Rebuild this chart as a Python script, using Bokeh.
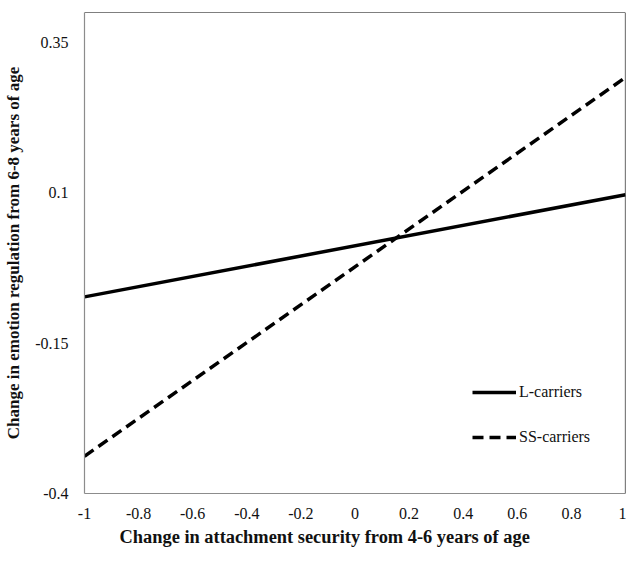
from bokeh.plotting import figure
from bokeh.models import Range1d, FixedTicker, Span, Legend, LegendItem, Title
from bokeh.embed import file_html
from bokeh.resources import INLINE

# Data
x_vals = [-1, 1]
l_carriers = [-0.073, 0.097]
ss_carriers = [-0.338, 0.292]
x_ticks = [-1, -0.8, -0.6, -0.4, -0.2, 0, 0.2, 0.4, 0.6, 0.8, 1]
y_ticks = [-0.4, -0.15, 0.1, 0.35]
x_title = "Change in attachment security from 4-6 years of age"
y_title = "Change in emotion regulation from 6-8 years of age"
labels = ["L-carriers", "SS-carriers"]

FONT = "Liberation Serif"

p = figure(width=626, height=549, output_backend="svg", toolbar_location=None,
           x_range=Range1d(-1, 1), y_range=Range1d(-0.4, 0.4),
           min_border_left=84, min_border_right=1, min_border_top=12, min_border_bottom=55)
p.outline_line_color = None
p.xgrid.grid_line_color = None
p.ygrid.grid_line_color = None
p.background_fill_color = "white"
p.border_fill_color = "white"

for ax in (p.xaxis[0], p.yaxis[0]):
    ax.axis_line_color = "#8c8c8c"
    ax.axis_line_width = 1.2
    ax.major_tick_line_color = None
    ax.minor_tick_line_color = None
    ax.major_label_text_font = FONT
    ax.major_label_text_font_size = "16px"
    ax.major_label_text_color = "#111111"

p.xaxis.ticker = FixedTicker(ticks=x_ticks)
p.yaxis.ticker = FixedTicker(ticks=y_ticks)
p.xaxis.major_label_overrides = {v: f"{v:g}" for v in x_ticks}
p.yaxis.major_label_overrides = {v: f"{v:g}" for v in y_ticks}
p.xaxis.major_label_standoff = 8
p.yaxis.major_label_standoff = 10

p.yaxis.axis_label = y_title
p.yaxis.axis_label_text_font = FONT
p.yaxis.axis_label_text_font_style = "bold"
p.yaxis.axis_label_text_font_size = "17px"
p.yaxis.axis_label_standoff = 9
p.yaxis.axis_label_text_color = "#111111"

# top and right borders
p.add_layout(Span(location=0.4, dimension="width", line_color="black", line_width=1.2))
p.add_layout(Span(location=1, dimension="height", line_color="black", line_width=1.2))

r1 = p.line(x_vals, l_carriers, line_color="black", line_width=3.5)
r2 = p.line(x_vals, ss_carriers, line_color="black", line_width=3.5, line_dash="11 6")

legend = Legend(items=[LegendItem(label=labels[0], renderers=[r1]),
                       LegendItem(label=labels[1], renderers=[r2])],
                location=(388, 46), orientation="vertical",
                background_fill_alpha=0, border_line_color=None,
                glyph_width=44, glyph_height=20, label_height=20,
                spacing=25, padding=0, margin=0, label_standoff=3,
                label_text_font=FONT, label_text_font_size="16px",
                label_text_color="#111111")
p.add_layout(legend, "center")

t = Title(text=x_title, align="left", offset=35, text_font=FONT,
          text_font_style="bold", text_font_size="18.4px", text_color="#111111",
          standoff=6)
p.add_layout(t, "below")

open("out.html", "w").write(file_html(p, INLINE))
